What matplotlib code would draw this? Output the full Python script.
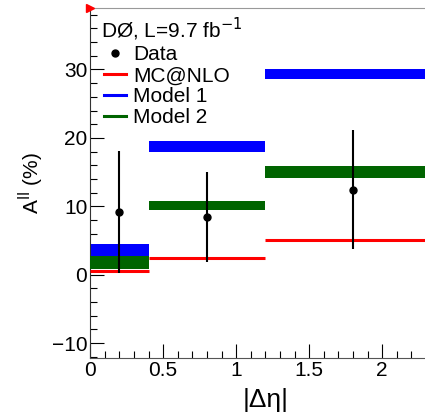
import numpy as np
import matplotlib.pyplot as plt
from matplotlib.lines import Line2D
from matplotlib.ticker import MultipleLocator

plt.rcParams['font.family'] = ['Liberation Sans', 'DejaVu Sans']

# |Delta eta| bins
bin_lo = [0.0, 0.4, 1.2]
bin_hi = [0.4, 1.2, 2.4]

# data points (%)
data_x = [0.2, 0.8, 1.8]
data_y = [9.2, 8.4, 12.4]
data_err = [8.9, 6.6, 8.7]

# predictions (%)
mcnlo = [0.6, 2.4, 5.0]
model1_lo = [2.8, 17.9, 28.6]
model1_hi = [4.5, 19.5, 30.0]
model2_lo = [0.8, 9.4, 14.2]
model2_hi = [2.7, 10.7, 15.9]

fig = plt.figure(figsize=(4.25, 4.15), dpi=100)
# axes run slightly past the right edge of the figure, as in the original cut-out
ax = fig.add_axes([0.212, 0.137, 0.828, 0.844])

for i in range(3):
    ax.fill_between([bin_lo[i], bin_hi[i]], model1_lo[i], model1_hi[i], color='#0000ff', lw=0, zorder=2)
    ax.fill_between([bin_lo[i], bin_hi[i]], model2_lo[i], model2_hi[i], color='#006400', lw=0, zorder=3)
    ax.plot([bin_lo[i], bin_hi[i]], [mcnlo[i], mcnlo[i]], color='#ff0000', lw=2.2, zorder=4, solid_capstyle='butt')

ax.errorbar(data_x, data_y, yerr=data_err, fmt='o', color='black', ms=5, elinewidth=1.5, capsize=0, zorder=5)

ax.set_xlim(0, 2.41)
ax.set_ylim(-12.2, 39)
ax.xaxis.set_major_locator(MultipleLocator(0.5))
ax.xaxis.set_minor_locator(MultipleLocator(0.1))
ax.yaxis.set_major_locator(MultipleLocator(10))
ax.yaxis.set_minor_locator(MultipleLocator(2))
ax.set_xticks([0, 0.5, 1, 1.5, 2])
ax.set_xticklabels(['0', '0.5', '1', '1.5', '2'])
ax.tick_params(which='both', direction='in', labelsize=15, top=False, right=False, pad=2)
ax.tick_params(which='major', length=10, width=0.8)
ax.tick_params(which='minor', length=5, width=0.8)

ax.spines['right'].set_visible(False)
ax.spines['top'].set_color('#999999')
ax.spines['left'].set_color('#333333')
ax.spines['bottom'].set_color('#555555')

ax.set_xlabel('|Δη|', fontsize=19, labelpad=6)
ax.set_ylabel(r'A$^{\rm ll}$ (%)', fontsize=15, labelpad=4)

# ROOT style marker in corner
ax.plot([0], [39], marker='>', color='red', ms=6, clip_on=False, zorder=6)

ax.text(0.03, 0.978, r'DØ, L=9.7 fb$^{-1}$', transform=ax.transAxes, fontsize=15, va='top', ha='left')
handles = [
    Line2D([], [], marker='o', color='black', ls='none', ms=5),
    Line2D([], [], color='#ff0000', lw=2.2),
    Line2D([], [], color='#0000ff', lw=2.2),
    Line2D([], [], color='#006400', lw=2.2),
]
labels = ['Data', 'MC@NLO', 'Model 1', 'Model 2']
ax.legend(handles, labels, loc='upper left', bbox_to_anchor=(0.0, 0.932), frameon=False,
          fontsize=15, handlelength=1.05, handletextpad=0.35, labelspacing=0.1,
          borderpad=0.3, borderaxespad=0.35)

fig.savefig('out.png', dpi=100)
